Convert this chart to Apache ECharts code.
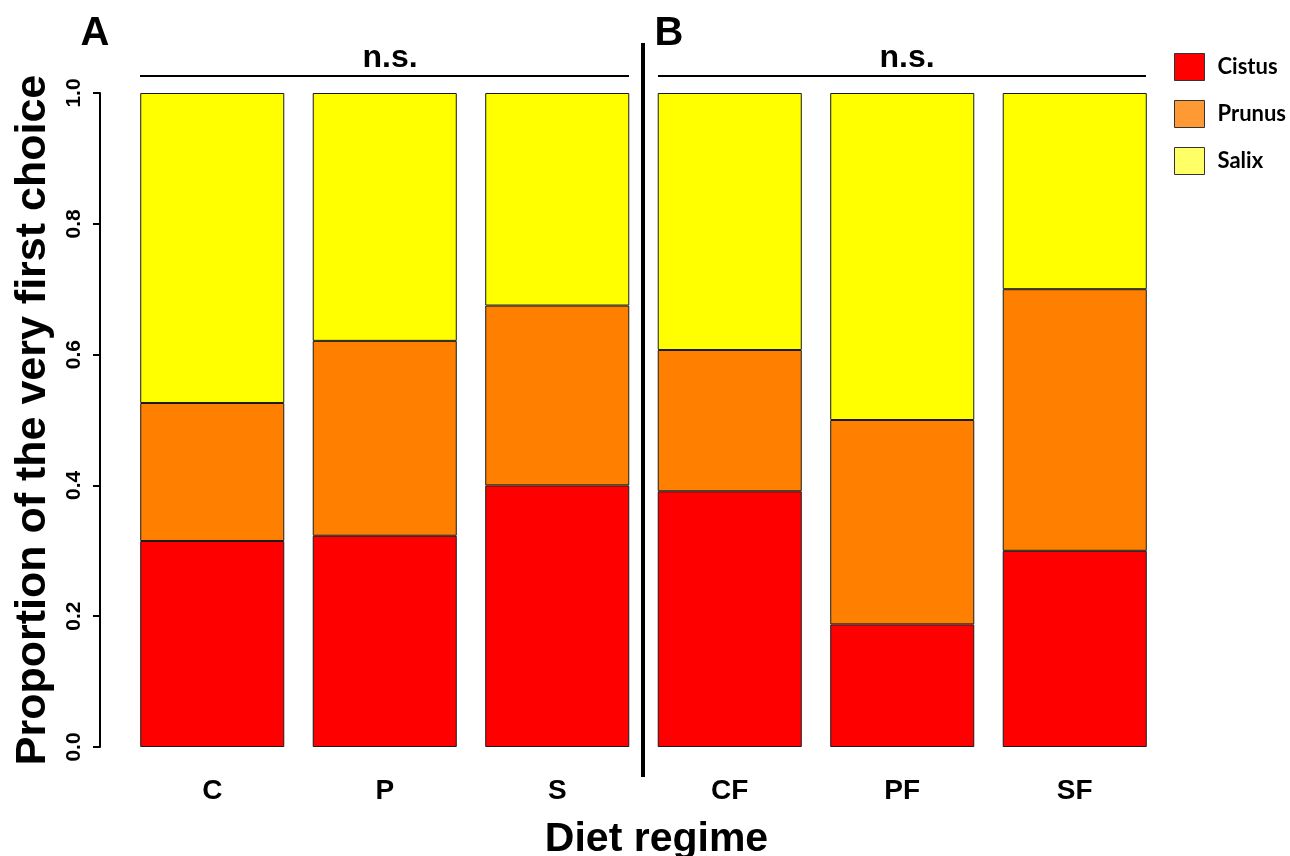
<!DOCTYPE html>
<html>
<head>
<meta charset="utf-8">
<script src="https://cdn.jsdelivr.net/npm/echarts@6/dist/echarts.min.js"></script>
<style>
html,body{margin:0;padding:0;background:#fff;}
#chart{width:1290px;height:856px;}
</style>
</head>
<body>
<div id="chart"></div>
<script>
const categories = ['C', 'P', 'S', 'CF', 'PF', 'SF'];
const cistus = [0.315, 0.323, 0.400, 0.391, 0.1875, 0.300];
const prunus = [0.211, 0.298, 0.275, 0.216, 0.3125, 0.400];
const salix  = [0.474, 0.379, 0.325, 0.393, 0.500, 0.300];
const yTicks = [0, 0.2, 0.4, 0.6, 0.8, 1.0];

const chart = echarts.init(document.getElementById('chart'), null, {renderer: 'canvas'});
const FONT = '"Liberation Sans", Arial, sans-serif';
const border = {borderColor: '#1a1a1a', borderWidth: 1};

const option = {
  animation: false,
  backgroundColor: '#fff',
  grid: {left: 126, right: 129, top: 93, bottom: 109, containLabel: false, outerBoundsMode: 'none'},
  legend: {
    orient: 'vertical',
    left: 1169,
    top: 48,
    itemWidth: 30,
    itemHeight: 27,
    itemGap: 19,
    icon: 'rect',
    textStyle: {fontFamily: 'Lato, "Open Sans", sans-serif', fontWeight: 'bold', fontSize: 22, color: '#000', padding: [0, 0, 0, 8]},
    data: [
      {name: 'Cistus', itemStyle: {color: '#ff0000', borderColor: '#333', borderWidth: 1}},
      {name: 'Prunus', itemStyle: {color: '#ff9933', borderColor: '#333', borderWidth: 1}},
      {name: 'Salix', itemStyle: {color: '#ffff66', borderColor: '#333', borderWidth: 1}}
    ]
  },
  xAxis: {
    type: 'category',
    data: categories,
    name: 'Diet regime',
    nameLocation: 'middle',
    nameGap: 72,
    nameTextStyle: {fontFamily: FONT, fontWeight: 'bold', fontSize: 41, color: '#000', padding: [0, 0, 0, 26]},
    axisLine: {show: false},
    axisTick: {show: false},
    axisLabel: {fontFamily: FONT, fontWeight: 'bold', fontSize: 28, color: '#000', margin: 30}
  },
  yAxis: {
    type: 'value',
    min: 0, max: 1, interval: 0.2,
    offset: 26,
    name: 'Proportion of the very first choice',
    nameLocation: 'middle',
    nameGap: 45,
    nameTextStyle: {fontFamily: FONT, fontWeight: 'bold', fontSize: 43, color: '#000', padding: [0, 0, 0, 0]},
    axisLine: {show: true, lineStyle: {color: '#000', width: 2}},
    axisTick: {show: true, length: 7, lineStyle: {color: '#000', width: 2}},
    splitLine: {show: false},
    axisLabel: {
      rotate: 90, margin: 15,
      fontFamily: FONT,
      fontWeight: 'bold', fontSize: 21, color: '#000',
      formatter: v => yTicks.indexOf(Math.round(v * 10) / 10) >= 0 ? v.toFixed(1) : ''
    }
  },
  series: [
    {name: 'Cistus', type: 'bar', stack: 'a', data: cistus, barCategoryGap: '16.5%', itemStyle: Object.assign({color: '#ff0000'}, border)},
    {name: 'Prunus', type: 'bar', stack: 'a', data: prunus, itemStyle: Object.assign({color: '#ff8000'}, border)},
    {name: 'Salix', type: 'bar', stack: 'a', data: salix, itemStyle: Object.assign({color: '#ffff00'}, border)}
  ],
  graphic: [
    {type: 'line', shape: {x1: 643, y1: 43, x2: 643, y2: 777}, style: {stroke: '#000', lineWidth: 4}},
    {type: 'line', shape: {x1: 140, y1: 76, x2: 629, y2: 76}, style: {stroke: '#000', lineWidth: 2}},
    {type: 'line', shape: {x1: 658, y1: 76, x2: 1146, y2: 76}, style: {stroke: '#000', lineWidth: 2}},
    {type: 'text', x: 390, y: 58, style: {text: 'n.s.', fontFamily: FONT, fontWeight: 'bold', fontSize: 32, fill: '#000', textAlign: 'center', textVerticalAlign: 'middle'}},
    {type: 'text', x: 907, y: 58, style: {text: 'n.s.', fontFamily: FONT, fontWeight: 'bold', fontSize: 32, fill: '#000', textAlign: 'center', textVerticalAlign: 'middle'}},
    {type: 'text', x: 95, y: 34, style: {text: 'A', fontFamily: FONT, fontWeight: 'bold', fontSize: 40, fill: '#000', textAlign: 'center', textVerticalAlign: 'middle'}},
    {type: 'text', x: 669, y: 34, style: {text: 'B', fontFamily: FONT, fontWeight: 'bold', fontSize: 40, fill: '#000', textAlign: 'center', textVerticalAlign: 'middle'}}
  ]
};
chart.setOption(option);
</script>
</body>
</html>
